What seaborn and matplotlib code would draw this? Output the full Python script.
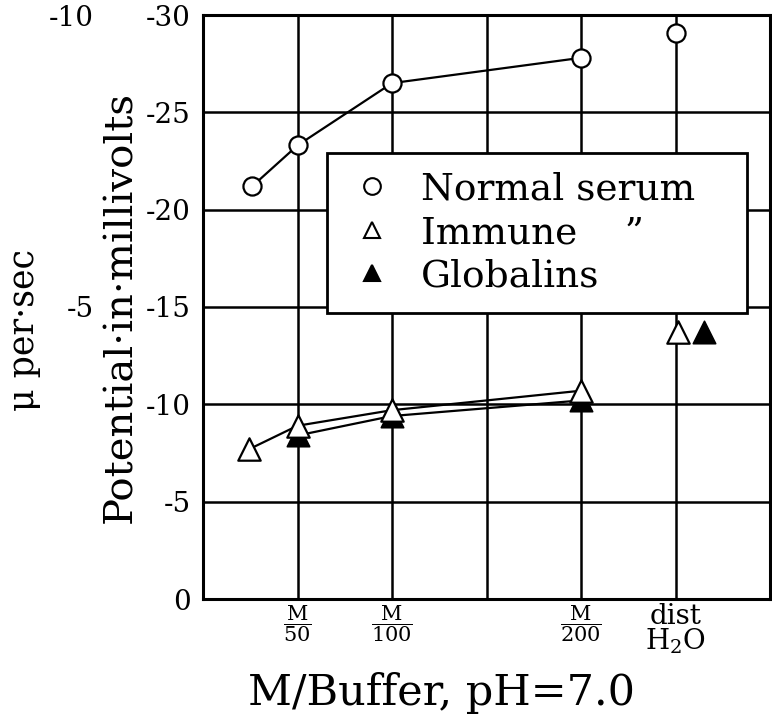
import numpy as np
import pandas as pd
import matplotlib
matplotlib.use("Agg")
import matplotlib.pyplot as plt
from matplotlib.lines import Line2D
import seaborn as sns

# ==================== 数据 ====================
# 横轴位置: 1 = M/50, 2 = M/100, 4 = M/200, 5 = dist H2O
normal_x = [0.52, 1, 2, 4]
normal_y = [-21.2, -23.3, -26.5, -27.8]
immune_x = [0.49, 1, 2, 4]
immune_y = [-7.7, -8.9, -9.7, -10.7]
glob_x = [1, 2, 4]
glob_y = [-8.4, -9.4, -10.2]

# dist H2O 点（不连线）
normal_water = ([5.0], [-29.1])
immune_water = ([5.03], [-13.7])
glob_water = ([5.3], [-13.7])

xtick_pos = [1, 2, 3, 4, 5]
xtick_labels = [r'$\dfrac{\mathrm{M}}{50}$', r'$\dfrac{\mathrm{M}}{100}$', '',
                r'$\dfrac{\mathrm{M}}{200}$', 'dist\nH$_2$O']
ytick_pos = [-30, -25, -20, -15, -10, -5, 0]
outer_ticks = [-10, -5]
legend_labels = ['Normal serum', 'Immune    \u201d', 'Globalins']

# ==================== 样式 ====================
sns.set_theme(style="white")
plt.rcParams['font.family'] = ['DejaVu Serif']
plt.rcParams['mathtext.fontset'] = 'dejavuserif'
plt.rcParams['axes.unicode_minus'] = False
for key in ['text.color', 'axes.labelcolor', 'xtick.color', 'ytick.color']:
    plt.rcParams[key] = 'black'

fig = plt.figure(figsize=(7.72, 7.18), dpi=100)
ax = fig.add_axes([203 / 772, 1 - 599 / 718, 567 / 772, 584 / 718])

# 曲线
sns.lineplot(x=normal_x, y=normal_y, ax=ax, color='black', lw=1.6, sort=False, zorder=2)
sns.lineplot(x=immune_x, y=immune_y, ax=ax, color='black', lw=1.6, sort=False, zorder=2)
sns.lineplot(x=glob_x, y=glob_y, ax=ax, color='black', lw=1.6, sort=False, zorder=2)

# 点
sns.scatterplot(x=normal_x + normal_water[0], y=normal_y + normal_water[1], ax=ax,
                marker='o', s=170, facecolor='white', edgecolor='black', linewidth=1.6, zorder=4)
sns.scatterplot(x=immune_x + immune_water[0], y=immune_y + immune_water[1], ax=ax,
                marker='^', s=260, facecolor='white', edgecolor='black', linewidth=1.6, zorder=4)
sns.scatterplot(x=glob_x + glob_water[0], y=glob_y + glob_water[1], ax=ax,
                marker='^', s=260, facecolor='black', edgecolor='black', linewidth=1.2, zorder=3)

ax.set_xlim(0, 6)
ax.set_ylim(0, -30)
ax.set_xticks(xtick_pos)
ax.set_xticklabels(xtick_labels, fontsize=15, linespacing=0.85)
ax.get_xticklabels()[4].set_fontsize(20)
ax.set_yticks(ytick_pos)
ax.set_yticklabels([str(v) for v in ytick_pos], fontsize=20)
ax.tick_params(axis='y', length=0, pad=9)
ax.tick_params(axis='x', length=0, pad=3)
ax.grid(True, color='black', lw=1.8)
for s in ax.spines.values():
    s.set_color('black')
    s.set_linewidth(2.2)

ax.set_ylabel('Potential\u00b7in\u00b7millivolts', fontsize=29)
ax.yaxis.set_label_coords(-0.113, 0.5)
ax.set_xlabel('M/Buffer, pH=7.0', fontsize=31)
ax.xaxis.set_label_coords(0.42, -0.125)

# 外侧刻度 (μ per sec)
sec = ax.secondary_yaxis(-0.188, functions=(lambda v: v / 3, lambda v: v * 3))
sec.set_yticks(outer_ticks)
sec.set_yticklabels([str(v) for v in outer_ticks], fontsize=20)
sec.tick_params(length=0, pad=2)
sec.spines['left'].set_visible(False)
sec.set_ylabel('\u03bc per\u00b7sec', fontsize=25)
sec.yaxis.set_label_coords(-0.285, 0.46, transform=ax.transAxes)

# 图例
handles = [
    Line2D([], [], ls='', marker='o', ms=12, mfc='white', mec='black', mew=1.5),
    Line2D([], [], ls='', marker='^', ms=12, mfc='white', mec='black', mew=1.5),
    Line2D([], [], ls='', marker='^', ms=12, mfc='black', mec='black', mew=1.5),
]
leg = ax.legend(handles, legend_labels, loc='upper left',
                bbox_to_anchor=(0.219, 0.481, 0.74, 0.283), mode='expand',
                borderaxespad=0, fontsize=27, frameon=True, fancybox=False, framealpha=1,
                borderpad=0.5, labelspacing=0.2, handletextpad=0.6, handlelength=1.4)
leg.get_frame().set_edgecolor('black')
leg.get_frame().set_linewidth(2.0)
leg.set_zorder(5)

fig.savefig('out.png', dpi=100)
